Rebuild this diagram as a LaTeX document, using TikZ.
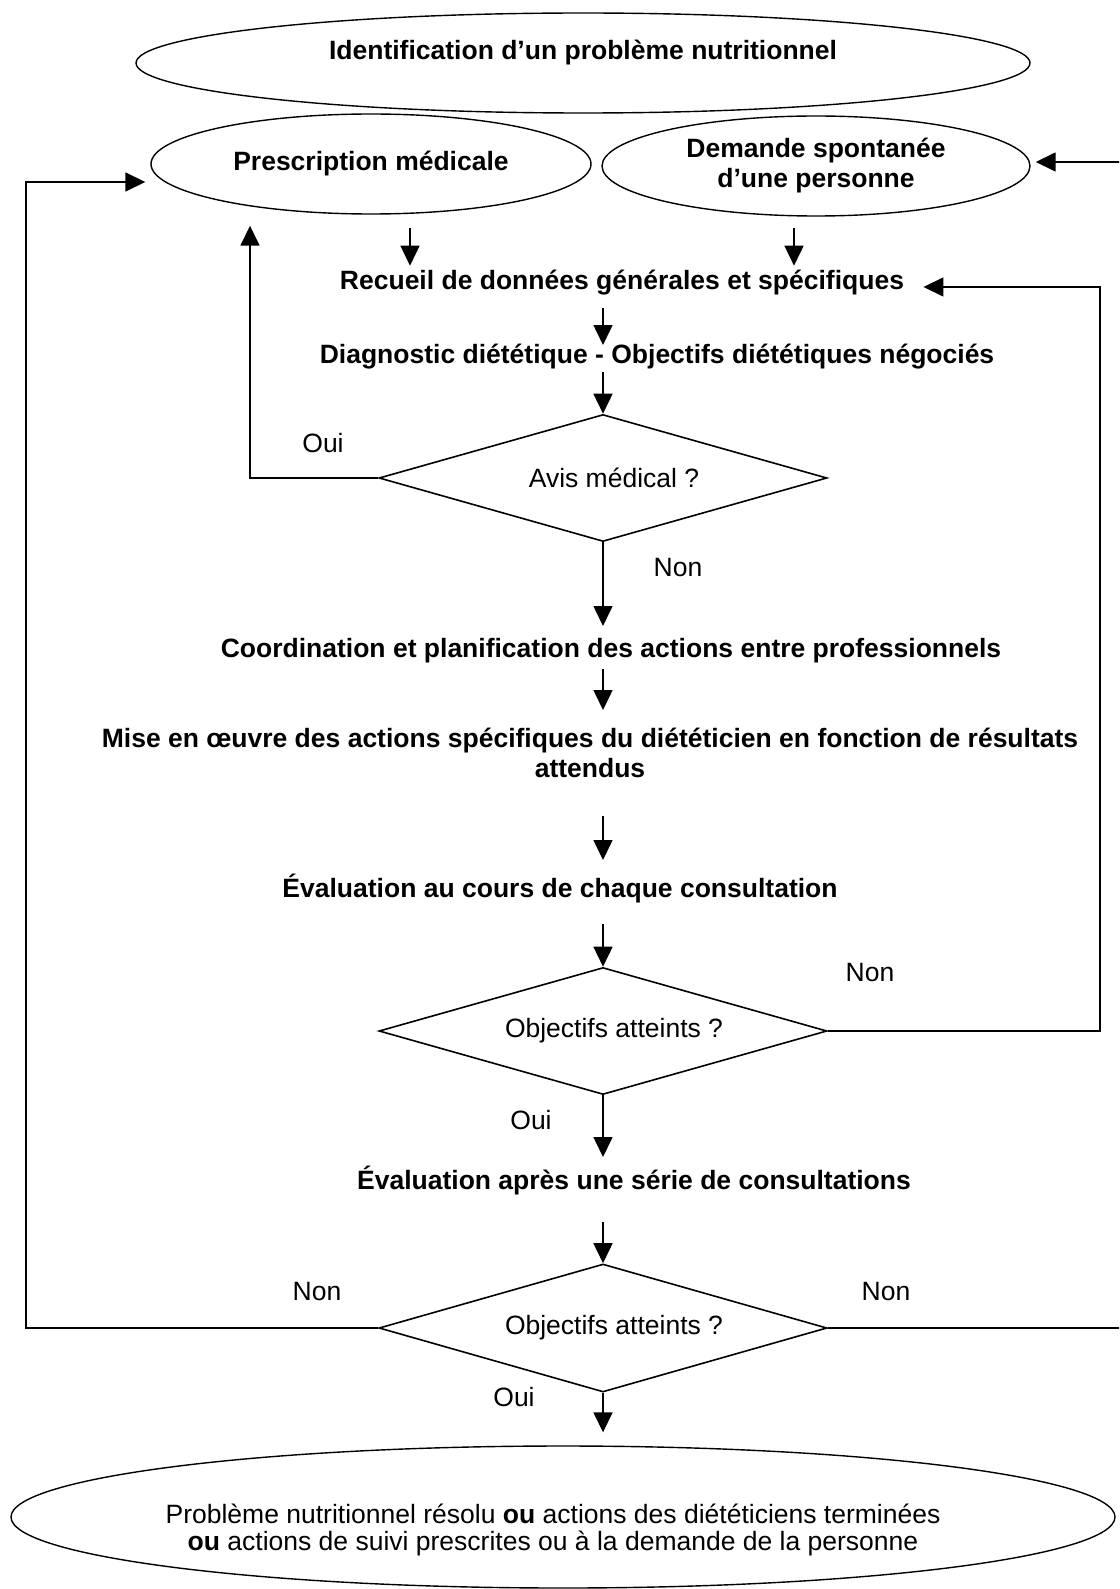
\documentclass[tikz,border=0pt]{standalone}
\usepackage{fontspec}
\setmainfont{Liberation Sans}
\usetikzlibrary{positioning, shapes.geometric, arrows.meta, calc}

\newcommand{\flowfont}{\fontsize{13.25}{15}\selectfont}

\tikzset{
  oval/.style={draw, ellipse, line width=0.7pt, inner sep=0pt, font=\flowfont\bfseries},
  decision/.style={draw, diamond, line width=0.8pt, inner sep=0pt,
                   minimum width=224pt, minimum height=63.5pt},
  stage/.style={font=\flowfont\bfseries, inner sep=0pt, align=center},
  answer/.style={inner sep=0pt},
  arr/.style={-{Triangle[length=10pt,width=9.5pt]}, line width=0.8pt},
}

\begin{document}
\begin{tikzpicture}[x=0.5pt, y=-0.5pt, font=\flowfont]
  \path[use as bounding box, clip] (0,0) rectangle (1119,1589);

  % ovals
  \node[oval, minimum width=447pt, minimum height=50pt,
        label={[stage, yshift=5pt]center:Identification d’un problème nutritionnel}] (ident) at (583,63) {};
  \node[oval, minimum width=220pt, minimum height=50pt] (presc) at (371,164) {Prescription médicale};
  \node[oval, minimum width=214pt, minimum height=50pt, align=center] (demande) at (816,166)
        {Demande spontanée\\d’une personne};

  % steps
  \node[stage] (recueil) at (622,283) {Recueil de données générales et spécifiques};
  \node[stage] (diag) at (657,357) {Diagnostic diététique - Objectifs diététiques négociés};
  \node[decision, label={[xshift=5.5pt]center:Avis médical ?}] (avis) at (603,478) {};
  \node[stage] (coord) at (611,651) {Coordination et planification des actions entre professionnels};
  \node[stage] (mise) at (590,753)
        {Mise en œuvre des actions spécifiques du diététicien en fonction de résultats\\attendus};
  \node[stage] (evalc) at (560,888) {Évaluation au cours de chaque consultation};
  \node[decision, label={[xshift=5.5pt]center:Objectifs atteints ?}] (obj1) at (603,1031) {};
  \node[stage] (evals) at (634,1180) {Évaluation après une série de consultations};
  \node[decision, minimum height=64pt, label={[xshift=5.5pt]center:Objectifs atteints ?}] (obj2) at (603,1328) {};
  \node[oval, font=\flowfont, minimum width=552pt, minimum height=71pt,
        label={[align=center, xshift=-5pt, yshift=-6.5pt, font=\fontsize{13.25}{13.5}\selectfont]center:Problème nutritionnel résolu \textbf{ou} actions des diététiciens terminées\\\textbf{ou} actions de suivi prescrites ou à la demande de la personne}] (fin) at (563,1517) {};

  % answers
  \node[answer] (oui1) at (323,443) {Oui};
  \node[answer] (non1) at (678,568) {Non};
  \node[answer] (non2) at (870,973) {Non};
  \node[answer] (oui2) at (531,1120) {Oui};
  \node[answer] (non3) at (317,1291) {Non};
  \node[answer] (non4) at (886,1291) {Non};
  \node[answer] (oui3) at (514,1397) {Oui};

  % main flow
  \draw[arr] (presc.south) ++(39,13) -- ++(0,38);
  \draw[arr] (demande.south) ++(-22,11) -- ++(0,38);
  \draw[arr] ($(recueil -| avis)+(0,25)$) -- ++(0,37);
  \draw[arr] ($(diag -| avis)+(0,15)$) -- (avis.north);
  \draw[arr] (avis.south) -- ($(coord -| avis)+(0,-25)$);
  \draw[arr] ($(coord -| avis)+(0,18)$) -- ++(0,41);
  \draw[arr] ($(mise -| avis)+(0,63)$) -- ++(0,44);
  \draw[arr] ($(evalc -| avis)+(0,36)$) -- (obj1.north);
  \draw[arr] (obj1.south) -- ($(evals -| obj1)+(0,-23)$);
  \draw[arr] ($(evals -| obj2)+(0,42)$) -- (obj2.north);
  \draw[arr] (obj2.south) -- ($(fin.north -| obj2)+(0,-13)$);

  % loops back
  \draw[arr] (avis.west) -| ($(presc.south)+(-121,11)$);
  \draw[arr] (obj1.east) -- ++(272,0) |- ($(recueil.east)+(19,4)$);
  \draw[arr] (obj2.west) -- ++(-352,0) |- ($(presc.west)+(-5,18)$);
  \draw[arr] (obj2.east) -- ++(299,0) |- ($(demande.east)+(5,-4)$);
\end{tikzpicture}
\end{document}
